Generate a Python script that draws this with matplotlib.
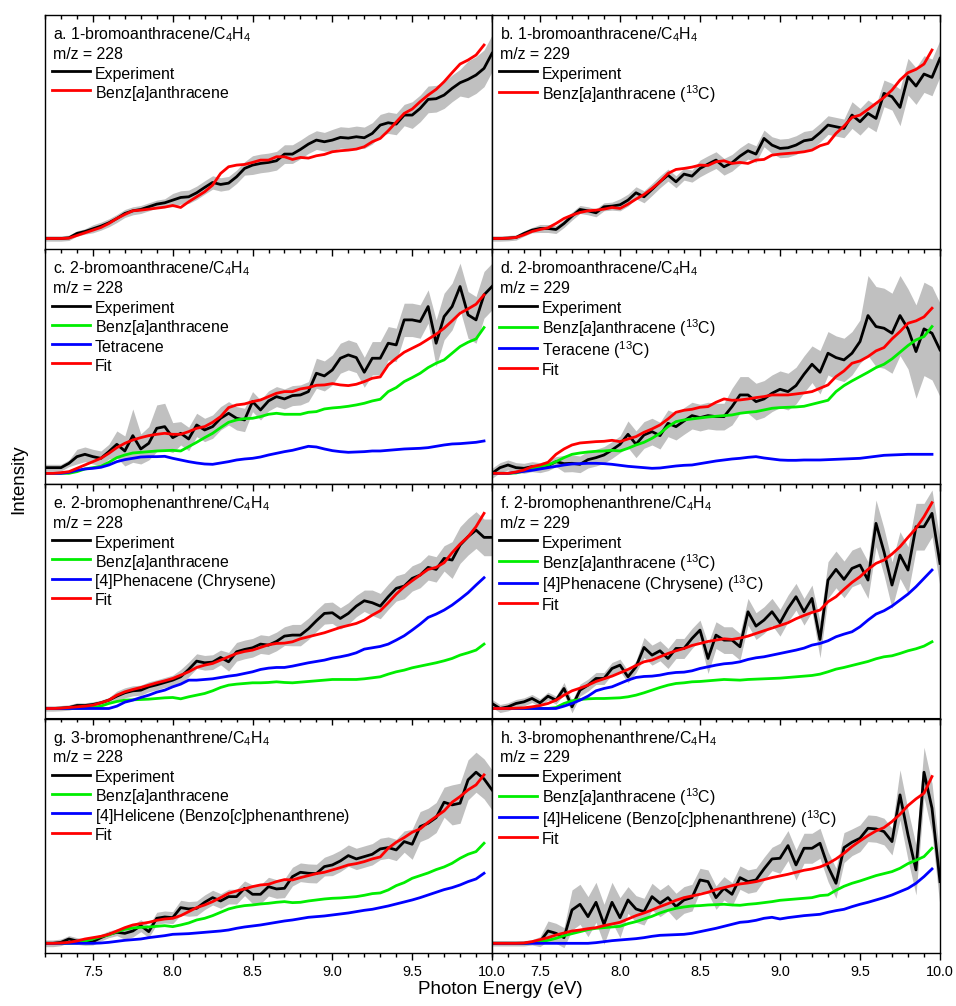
import numpy as np
import matplotlib.pyplot as plt
from matplotlib.ticker import MultipleLocator, FormatStrFormatter
from matplotlib.transforms import ScaledTranslation

plt.rcParams.update({
    'font.family': ['Liberation Sans', 'DejaVu Sans'],
    'mathtext.fontset': 'custom',
    'mathtext.rm': 'Liberation Sans',
    'mathtext.it': 'Liberation Sans:italic',
    'mathtext.bf': 'Liberation Sans:bold',
    'mathtext.default': 'regular',
})

# photon energy grids (eV): experiment to 10.0, simulated curves to 9.95
E_EXP = np.round(np.arange(7.20, 10.001, 0.05), 2)
E_MOD = np.round(np.arange(7.20, 9.951, 0.05), 2)

# ---- a. 1-bromoanthracene, m/z 228
EXP_A = [0, 0, 0, 2, 15, 21, 29, 37, 47, 60,
         75, 83, 87, 95, 103, 107, 115, 123, 125, 137,
         153, 168, 162, 166, 185, 210, 220, 225, 228, 233,
         253, 253, 267, 283, 295, 290, 295, 303, 301, 305,
         302, 315, 340, 347, 343, 370, 370, 390, 417, 419,
         430, 450, 467, 477, 490, 510, 555]
ERR_A = [8, 8, 8, 8, 8, 8, 12, 12, 12, 12,
         12, 12, 12, 12, 12, 12, 20, 20, 20, 20,
         20, 20, 20, 20, 20, 20, 28, 28, 28, 28,
         28, 28, 28, 28, 28, 28, 32, 32, 32, 32,
         32, 32, 32, 32, 32, 32, 40, 40, 40, 40,
         40, 40, 40, 55, 55, 55, 55]
BAA_A = [0, 0, 0, 1, 9, 17, 25, 33, 45, 60,
         72, 83, 85, 88, 91, 94, 99, 93, 110, 125,
         140, 160, 195, 215, 220, 222, 228, 235, 235, 245,
         245, 237, 243, 241, 248, 252, 260, 263, 265, 268,
         275, 290, 300, 323, 349, 375, 388, 410, 430, 447,
         470, 497, 523, 535, 550, 580]

# ---- b. 1-bromoanthracene, m/z 229
EXP_B = [0, 0, 1, 3, 15, 25, 30, 30, 27, 45,
         67, 87, 83, 77, 95, 97, 101, 115, 137, 125,
         147, 170, 190, 170, 193, 187, 210, 223, 235, 215,
         227, 247, 263, 253, 300, 280, 270, 272, 280, 293,
         297, 317, 340, 335, 330, 370, 350, 375, 360, 435,
         425, 393, 485, 457, 493, 483, 540]
ERR_B = [8, 8, 8, 8, 8, 8, 12, 12, 12, 12,
         12, 12, 12, 12, 12, 12, 18, 18, 18, 18,
         18, 18, 18, 18, 18, 18, 25, 25, 25, 25,
         25, 25, 25, 25, 25, 25, 28, 28, 28, 28,
         28, 28, 28, 28, 28, 40, 40, 40, 40, 40,
         40, 55, 55, 55, 55, 55, 55]
BAA_B = [0, 0, 1, 3, 11, 21, 27, 32, 45, 60,
         70, 78, 83, 85, 88, 93, 90, 103, 118, 132,
         150, 170, 195, 207, 210, 214, 220, 219, 230, 233,
         225, 228, 225, 235, 237, 250, 253, 255, 257, 260,
         265, 278, 285, 315, 337, 363, 370, 387, 405, 423,
         445, 475, 497, 507, 523, 565]

# ---- c. 2-bromoanthracene, m/z 228
EXP_C = [17, 17, 17, 30, 50, 57, 50, 45, 65, 87,
         67, 113, 73, 90, 135, 140, 107, 120, 103, 145,
         130, 140, 165, 180, 165, 160, 215, 190, 217, 230,
         223, 233, 235, 245, 300, 292, 310, 345, 355, 347,
         303, 345, 345, 390, 385, 460, 460, 455, 500, 390,
         470, 500, 560, 475, 460, 535, 560]
ERR_C = [10, 10, 10, 10, 22, 22, 22, 22, 22, 40,
         45, 80, 45, 50, 70, 70, 45, 35, 35, 35,
         35, 35, 35, 35, 35, 35, 30, 30, 30, 30,
         30, 30, 30, 30, 45, 45, 45, 45, 45, 45,
         45, 50, 50, 50, 50, 50, 50, 50, 50, 70,
         70, 70, 70, 70, 70, 70, 70]
FIT_C = [0, 0, 2, 5, 15, 25, 35, 45, 60, 77,
         90, 100, 107, 113, 117, 120, 117, 117, 125, 135,
         140, 153, 170, 197, 205, 208, 215, 220, 230, 240,
         245, 245, 253, 257, 264, 265, 269, 265, 263, 267,
         275, 285, 289, 325, 345, 363, 375, 387, 402, 417,
         435, 457, 480, 493, 507, 535]
BAA_C = [0, 0, 0, 0, 5, 13, 17, 21, 33, 47,
         55, 61, 63, 65, 67, 68, 69, 67, 80, 93,
         107, 120, 137, 153, 160, 164, 165, 170, 177, 180,
         177, 177, 177, 183, 185, 193, 196, 198, 201, 205,
         210, 217, 222, 245, 257, 275, 287, 300, 317, 330,
         340, 360, 380, 393, 403, 437]
TET_C = [0, 0, 0, 3, 9, 13, 15, 18, 25, 35,
         41, 45, 49, 50, 50, 51, 45, 40, 35, 31,
         28, 27, 31, 35, 40, 43, 45, 49, 55, 60,
         65, 69, 75, 81, 79, 73, 68, 65, 63, 64,
         65, 67, 67, 69, 71, 73, 74, 75, 77, 81,
         85, 88, 89, 91, 93, 97]

# ---- d. 2-bromoanthracene, m/z 229
EXP_D = [0, 17, 25, 17, 15, 20, 17, 23, 35, 29,
         30, 27, 41, 47, 55, 70, 87, 117, 87, 115,
         125, 113, 150, 140, 157, 173, 167, 173, 170, 170,
         200, 235, 235, 215, 223, 240, 252, 245, 263, 297,
         327, 303, 360, 347, 340, 360, 395, 473, 440, 435,
         420, 473, 433, 365, 433, 420, 370]
ERR_D = [15, 15, 15, 15, 15, 15, 15, 15, 15, 25,
         25, 25, 25, 25, 25, 25, 25, 40, 40, 40,
         40, 40, 40, 40, 40, 40, 40, 40, 40, 40,
         55, 55, 55, 55, 55, 55, 55, 55, 55, 55,
         55, 65, 65, 65, 65, 65, 65, 120, 120, 120,
         120, 120, 120, 140, 140, 140, 140]
FIT_D = [0, 0, 0, 4, 10, 20, 25, 33, 57, 73,
         85, 91, 93, 95, 96, 99, 95, 103, 110, 123,
         133, 145, 163, 183, 189, 192, 198, 200, 213, 223,
         219, 220, 223, 227, 230, 235, 235, 235, 238, 241,
         245, 255, 265, 290, 307, 330, 337, 350, 367, 377,
         403, 425, 450, 457, 469, 495]
BAA_D = [0, 0, 0, 1, 7, 15, 20, 25, 35, 47,
         57, 61, 64, 66, 67, 69, 67, 75, 85, 93,
         105, 120, 140, 155, 160, 163, 166, 169, 171, 173,
         175, 180, 183, 185, 190, 195, 197, 198, 199, 201,
         207, 213, 219, 245, 263, 277, 290, 303, 317, 327,
         343, 363, 383, 400, 410, 440]
TET_D = [0, 0, 0, 3, 6, 9, 13, 17, 21, 25,
         28, 29, 30, 30, 29, 27, 24, 21, 19, 17,
         15, 16, 19, 22, 24, 25, 29, 33, 37, 40,
         43, 45, 48, 50, 46, 43, 40, 39, 39, 40,
         40, 40, 41, 42, 43, 44, 45, 48, 51, 54,
         55, 56, 57, 57, 57, 57]

# ---- e. 2-bromophenanthrene, m/z 228
EXP_E = [0, 0, 1, 3, 9, 9, 12, 17, 25, 37,
         47, 53, 55, 65, 71, 78, 85, 95, 117, 142,
         137, 139, 153, 140, 170, 177, 182, 193, 190, 201,
         217, 220, 220, 239, 263, 285, 287, 270, 285, 307,
         323, 317, 307, 335, 360, 367, 390, 400, 423, 417,
         450, 445, 490, 515, 535, 513, 513]
ERR_E = [8, 8, 8, 8, 8, 8, 8, 8, 8, 15,
         15, 15, 15, 15, 15, 15, 15, 22, 22, 22,
         22, 22, 22, 28, 28, 28, 28, 28, 28, 28,
         28, 32, 32, 32, 32, 32, 32, 32, 32, 32,
         32, 38, 38, 38, 38, 38, 38, 38, 38, 38,
         38, 55, 55, 55, 55, 55, 55]
FIT_E = [0, 0, 1, 3, 5, 7, 10, 17, 25, 40,
         50, 57, 63, 70, 77, 83, 90, 100, 110, 123,
         130, 135, 145, 155, 165, 171, 175, 183, 191, 195,
         196, 200, 209, 215, 221, 227, 235, 243, 249, 255,
         265, 280, 293, 317, 343, 365, 383, 400, 417, 423,
         437, 467, 493, 515, 545, 585]
BAA_E = [0, 0, 0, 0, 0, 1, 3, 7, 15, 21,
         25, 26, 27, 28, 30, 32, 33, 29, 35, 40,
         45, 53, 63, 70, 73, 75, 77, 77, 78, 80,
         78, 77, 79, 81, 83, 85, 87, 87, 87, 87,
         89, 92, 95, 103, 110, 115, 122, 127, 132, 137,
         143, 150, 160, 167, 175, 193]
PHE_E = [0, 0, 0, 0, 0, 0, 0, 0, 0, 7,
         19, 25, 33, 40, 49, 55, 65, 73, 85, 85,
         87, 89, 93, 97, 100, 105, 110, 117, 121, 123,
         123, 127, 132, 137, 141, 145, 151, 155, 160, 167,
         178, 182, 186, 193, 205, 218, 235, 253, 273, 283,
         295, 310, 328, 347, 370, 392]

# ---- f. 2-bromophenanthrene, m/z 229
EXP_F = [15, 0, 5, 15, 20, 30, 17, 37, 25, 60,
         5, 55, 70, 90, 90, 120, 130, 95, 125, 183,
         160, 173, 150, 180, 180, 210, 235, 150, 220, 205,
         205, 185, 290, 247, 265, 290, 257, 300, 335, 290,
         330, 207, 385, 417, 387, 420, 430, 385, 555, 470,
         370, 460, 415, 545, 545, 585, 435]
ERR_F = [12, 12, 12, 12, 12, 12, 12, 12, 12, 18,
         18, 18, 18, 18, 18, 18, 18, 18, 18, 30,
         30, 30, 30, 30, 30, 30, 30, 45, 40, 40,
         40, 40, 40, 40, 40, 40, 40, 40, 40, 40,
         40, 55, 55, 55, 55, 55, 55, 55, 70, 70,
         70, 70, 70, 70, 70, 70, 70]
FIT_F = [0, 0, 0, 1, 2, 5, 9, 15, 25, 40,
         53, 61, 70, 81, 89, 97, 107, 117, 129, 140,
         145, 155, 165, 173, 180, 189, 195, 201, 205, 209,
         207, 211, 217, 225, 233, 241, 249, 257, 269, 279,
         288, 295, 320, 335, 357, 378, 395, 417, 435, 445,
         463, 485, 513, 540, 575, 617]
BAA_F = [0, 0, 0, 0, 0, 0, 0, 0, 3, 15,
         23, 27, 29, 30, 30, 31, 32, 35, 40, 47,
         55, 63, 70, 75, 77, 80, 81, 83, 85, 87,
         86, 85, 87, 88, 89, 90, 91, 93, 95, 97,
         99, 103, 110, 118, 123, 129, 135, 141, 149, 155,
         158, 165, 173, 179, 187, 200]
PHE_F = [0, 0, 0, 0, 0, 0, 0, 0, 0, 7,
         15, 25, 37, 53, 60, 65, 75, 85, 93, 96,
         97, 100, 105, 108, 109, 113, 120, 125, 130, 134,
         136, 140, 147, 152, 155, 160, 165, 170, 175, 181,
         190, 195, 203, 215, 223, 230, 245, 265, 283, 293,
         307, 325, 343, 365, 390, 415]

# ---- g. 3-bromophenanthrene, m/z 228
EXP_G = [0, 0, 3, 13, 7, 4, 5, 17, 27, 33,
         30, 37, 53, 35, 75, 79, 77, 107, 103, 105,
         123, 137, 127, 140, 140, 165, 147, 147, 170, 163,
         165, 200, 213, 210, 209, 230, 235, 247, 263, 253,
         260, 267, 283, 287, 280, 305, 297, 350, 360, 377,
         423, 415, 420, 490, 513, 493, 460]
ERR_G = [10, 10, 10, 10, 10, 10, 10, 10, 10, 10,
         18, 18, 18, 18, 18, 18, 18, 22, 22, 22,
         22, 22, 22, 22, 22, 22, 28, 28, 28, 28,
         28, 28, 28, 28, 28, 28, 32, 32, 32, 32,
         32, 32, 32, 32, 32, 32, 45, 45, 45, 45,
         45, 60, 60, 60, 60, 60, 60]
FIT_G = [0, 0, 1, 3, 7, 13, 17, 21, 27, 37,
         47, 55, 59, 63, 69, 73, 75, 83, 95, 107,
         115, 125, 137, 150, 157, 163, 170, 175, 177, 185,
         191, 190, 197, 203, 209, 213, 220, 227, 235, 239,
         245, 253, 259, 285, 303, 317, 333, 343, 363, 380,
         397, 423, 440, 460, 475, 505]
BAA_G = [0, 0, 0, 0, 1, 7, 13, 20, 25, 35,
         42, 46, 48, 49, 51, 53, 50, 55, 61, 70,
         75, 83, 93, 103, 109, 113, 115, 118, 120, 123,
         125, 122, 123, 127, 130, 133, 135, 136, 138, 140,
         144, 149, 151, 160, 173, 182, 195, 203, 211, 221,
         229, 240, 255, 267, 275, 300]
HEL_G = [0, 0, 0, 0, 0, 0, 0, 1, 3, 6,
         9, 11, 13, 17, 20, 23, 27, 28, 29, 31,
         33, 35, 37, 40, 45, 49, 52, 55, 59, 63,
         67, 70, 74, 78, 80, 82, 85, 88, 91, 95,
         99, 102, 107, 112, 118, 124, 130, 137, 145, 153,
         161, 167, 175, 185, 193, 210]

# ---- h. 3-bromophenanthrene, m/z 229
EXP_H = [0, 0, 0, 0, 0, 3, 5, 37, 30, 17,
         100, 117, 80, 123, 57, 123, 77, 130, 103, 95,
         140, 120, 137, 110, 130, 137, 190, 185, 137, 165,
         147, 197, 185, 190, 223, 253, 255, 293, 235, 285,
         285, 300, 230, 180, 287, 303, 315, 345, 343, 335,
         305, 445, 325, 220, 513, 405, 185]
ERR_H = [8, 8, 8, 8, 8, 8, 15, 30, 30, 30,
         60, 60, 60, 60, 60, 60, 60, 40, 40, 40,
         40, 40, 40, 40, 40, 40, 35, 35, 35, 35,
         35, 35, 35, 35, 35, 35, 45, 45, 45, 45,
         45, 45, 45, 45, 45, 40, 40, 40, 40, 40,
         40, 75, 75, 75, 75, 75, 75]
FIT_H = [0, 0, 0, 0, 1, 5, 11, 17, 25, 31,
         37, 40, 44, 47, 53, 58, 63, 73, 83, 91,
         100, 110, 119, 129, 137, 142, 147, 153, 161, 167,
         173, 178, 181, 185, 191, 197, 202, 207, 213, 219,
         223, 229, 239, 253, 270, 290, 307, 323, 337, 347,
         365, 387, 413, 433, 450, 500]
BAA_H = [0, 0, 0, 0, 0, 2, 5, 9, 15, 23,
         29, 35, 41, 45, 47, 49, 51, 59, 65, 73,
         81, 91, 99, 105, 109, 112, 113, 115, 116, 117,
         115, 114, 117, 119, 122, 125, 129, 131, 133, 135,
         137, 143, 145, 159, 171, 180, 187, 195, 203, 209,
         215, 225, 239, 249, 260, 285]
HEL_H = [0, 0, 0, 0, 0, 0, 0, 0, 0, 0,
         0, 0, 0, 2, 5, 8, 10, 12, 14, 17,
         21, 24, 25, 26, 27, 30, 35, 40, 45, 51,
         57, 63, 65, 69, 75, 78, 73, 77, 80, 83,
         85, 87, 93, 98, 102, 110, 117, 123, 130, 137,
         145, 155, 165, 180, 200, 223]

TITLES = [
    "a. 1-bromoanthracene/C$_4$H$_4$", "b. 1-bromoanthracene/C$_4$H$_4$",
    "c. 2-bromoanthracene/C$_4$H$_4$", "d. 2-bromoanthracene/C$_4$H$_4$",
    "e. 2-bromophenanthrene/C$_4$H$_4$", "f. 2-bromophenanthrene/C$_4$H$_4$",
    "g. 3-bromophenanthrene/C$_4$H$_4$", "h. 3-bromophenanthrene/C$_4$H$_4$",
]
MASSES = ["m/z = 228", "m/z = 229"] * 4

BAA = "Benz[$\\mathit{a}$]anthracene"
C13 = " ($^{13}$C)"
GREEN, BLUE, RED = '#00ee00', '#0000ff', '#ff0000'

# (experiment, error, [(curve, colour, label), ...]) for each panel
PANELS = [
    (EXP_A, ERR_A, [(BAA_A, RED, BAA)]),
    (EXP_B, ERR_B, [(BAA_B, RED, BAA + C13)]),
    (EXP_C, ERR_C, [(BAA_C, GREEN, BAA), (TET_C, BLUE, "Tetracene"),
                    (FIT_C, RED, "Fit")]),
    (EXP_D, ERR_D, [(BAA_D, GREEN, BAA + C13), (TET_D, BLUE, "Teracene" + C13),
                    (FIT_D, RED, "Fit")]),
    (EXP_E, ERR_E, [(BAA_E, GREEN, BAA),
                    (PHE_E, BLUE, "[4]Phenacene (Chrysene)"),
                    (FIT_E, RED, "Fit")]),
    (EXP_F, ERR_F, [(BAA_F, GREEN, BAA + C13),
                    (PHE_F, BLUE, "[4]Phenacene (Chrysene)" + C13),
                    (FIT_F, RED, "Fit")]),
    (EXP_G, ERR_G, [(BAA_G, GREEN, BAA),
                    (HEL_G, BLUE, "[4]Helicene (Benzo[$\\mathit{c}$]phenanthrene)"),
                    (FIT_G, RED, "Fit")]),
    (EXP_H, ERR_H, [(BAA_H, GREEN, BAA + C13),
                    (HEL_H, BLUE, "[4]Helicene (Benzo[$\\mathit{c}$]phenanthrene)" + C13),
                    (FIT_H, RED, "Fit")]),
]

YLIMS = [(-33, 670), (-32, 671), (-30, 673), (-29, 674)]

W, H = 956, 1006
COL_X = [(45, 492), (492, 940)]
ROW_TOP, ROW_H = 15, 234.5
FS = 11.4

fig = plt.figure(figsize=(W / 100, H / 100), dpi=100)


def offset(ax, dx, dy):
    # axes top-left corner shifted by pixels
    return ax.transAxes + ScaledTranslation(dx / 100, -dy / 100, fig.dpi_scale_trans)


def set_ticks(axis_obj):
    axis_obj.set_major_locator(MultipleLocator(0.5))
    axis_obj.set_minor_locator(MultipleLocator(0.1))


fs_px = FS * 100 / 72
for i, (exp, err, models) in enumerate(PANELS):
    row, col = divmod(i, 2)
    x0, x1 = COL_X[col]
    top = ROW_TOP + row * ROW_H
    ax = fig.add_axes([x0 / W, 1 - (top + ROW_H) / H, (x1 - x0) / W, ROW_H / H])

    exp = np.array(exp, dtype=float)
    err = np.array(err, dtype=float)
    ax.fill_between(E_EXP, exp - err, exp + err, color='#c0c0c0', lw=0)
    ax.plot(E_EXP, exp, color='k', lw=2, label='Experiment')
    for curve, color, label in models:
        ax.plot(E_MOD, curve, color=color, lw=2, label=label)

    ax.set_xlim(7.2, 10.0)
    ax.set_ylim(*YLIMS[row])
    ax.set_yticks([])
    set_ticks(ax.xaxis)
    ax.xaxis.set_major_formatter(FormatStrFormatter('%.1f'))
    for s in ax.spines.values():
        s.set_linewidth(1.0)

    if row < 3:
        ax.tick_params(axis='x', which='both', direction='in', top=True,
                       bottom=False, labelbottom=False, width=1)
    else:
        ax.tick_params(axis='x', which='both', direction='out', top=False,
                       bottom=True, labelsize=10.4, width=1, pad=4)
        sec = ax.secondary_xaxis('top')
        set_ticks(sec.xaxis)
        sec.tick_params(axis='x', which='both', direction='in', labeltop=False, width=1)
        sec.tick_params(axis='x', which='major', length=5)
        sec.tick_params(axis='x', which='minor', length=3)
    ax.tick_params(axis='x', which='major', length=5)
    ax.tick_params(axis='x', which='minor', length=3)

    ax.text(0, 1, TITLES[i], transform=offset(ax, 8, 19.5), ha='left', va='center', fontsize=FS)
    ax.text(0, 1, MASSES[i], transform=offset(ax, 8, 39.5), ha='left', va='center', fontsize=FS)
    # tall handle boxes keep every legend row at the same pitch
    ax.legend(loc='upper left', bbox_to_anchor=(0, 1), bbox_transform=offset(ax, 7, 49),
              frameon=False, fontsize=FS, borderpad=0, borderaxespad=0,
              handlelength=38 / fs_px, handletextpad=0.3, labelspacing=0,
              handleheight=1.46)

fig.text(19 / W, 1 - 479 / H, 'Intensity', rotation=90, ha='center', va='center', fontsize=13.5)
fig.text(500 / W, 1 - 989 / H, 'Photon Energy (eV)', ha='center', va='center', fontsize=13.5)

fig.savefig('out.png', dpi=100)
